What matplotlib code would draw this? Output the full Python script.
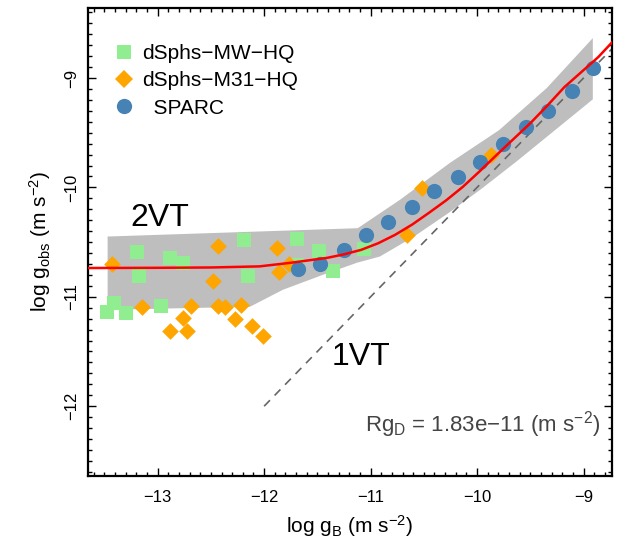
import matplotlib
matplotlib.use("Agg")
import matplotlib.pyplot as plt
from matplotlib.lines import Line2D

plt.rcParams['font.family'] = ['Liberation Sans', 'DejaVu Sans']
plt.rcParams['mathtext.fontset'] = 'custom'
plt.rcParams['mathtext.rm'] = 'Liberation Sans'
plt.rcParams['mathtext.it'] = 'Liberation Sans:italic'

# dSphs (Milky Way), high quality
mw_gb = [-13.197, -13.173, -12.885, -12.760, -12.187, -12.149, -11.695, -11.483,
         -11.351, -11.063, -13.410, -13.473, -13.300, -12.969, -11.692]
mw_gobs = [-10.586, -10.808, -10.647, -10.687, -10.479, -10.808, -10.473, -10.580,
           -10.760, -10.564, -11.058, -11.140, -11.149, -11.082, -10.708]

# dSphs (M31), high quality
m31_gb = [-13.426, -13.145, -12.765, -12.885, -12.728, -12.687, -12.437, -12.478,
          -12.437, -12.368, -12.221, -12.274, -12.112, -12.008, -11.883, -11.767,
          -11.858, -10.660, -10.516, -9.873]
m31_gobs = [-10.701, -11.089, -11.195, -11.317, -11.317, -11.082, -10.534, -10.854,
            -11.082, -11.089, -11.073, -11.201, -11.271, -11.356, -10.555, -10.699,
            -10.769, -10.434, -10.002, -9.703]

# SPARC binned points
sparc_gb = [-11.685, -11.478, -11.254, -11.041, -10.835, -10.612, -10.405, -10.182,
            -9.969, -9.752, -9.539, -9.332, -9.110, -8.913]
sparc_gobs = [-10.747, -10.701, -10.571, -10.434, -10.312, -10.175, -10.032, -9.907,
              -9.770, -9.605, -9.445, -9.299, -9.116, -8.911]

# fitted relation (red curve)
fit_gb = [-13.70, -13.00, -12.50, -12.044, -11.758, -11.408, -11.25, -11.089,
          -10.93, -10.771, -10.61, -10.453, -10.29, -10.134, -9.975, -9.816,
          -9.657, -9.498, -9.34, -9.179, -9.02, -8.861, -8.70]
fit_gobs = [-10.737, -10.735, -10.732, -10.722, -10.690, -10.644, -10.612, -10.571,
            -10.511, -10.434, -10.340, -10.233, -10.118, -9.995, -9.852, -9.703,
            -9.557, -9.411, -9.252, -9.082, -8.945, -8.808, -8.640]

# scatter band (gray)
band_up_gb = [-13.470, -11.121, -10.725, -10.255, -9.791, -9.345, -8.913]
band_up_gobs = [-10.449, -10.373, -10.114, -9.776, -9.475, -9.091, -8.635]
band_lo_gb = [-8.913, -9.343, -9.631, -9.951, -10.271, -10.592, -10.913, -11.129,
              -11.448, -11.824, -12.133, -13.470]
band_lo_gobs = [-9.195, -9.536, -9.764, -10.007, -10.236, -10.449, -10.632, -10.689,
                -10.799, -10.936, -11.091, -11.119]

# 1:1 line
onevt = [-12.0, -8.6]

fig = plt.figure(figsize=(6.25, 5.41), dpi=100)
ax = fig.add_axes([0.140, 0.120, 0.839, 0.866])

ax.fill(band_up_gb + band_lo_gb, band_up_gobs + band_lo_gobs,
        color='#bebebe', lw=0, zorder=1)
ax.plot(onevt, onevt, color='#666666', lw=1.2, ls=(0, (5, 4)), zorder=2)

ax.scatter(mw_gb, mw_gobs, marker='s', s=110, color='#90ee90', lw=0, zorder=3)
ax.scatter(m31_gb, m31_gobs, marker='D', s=72, color='#ffa500', lw=0, zorder=4)
ax.scatter(sparc_gb, sparc_gobs, marker='o', s=120, color='#4682b4', lw=0, zorder=5)
ax.plot(fit_gb, fit_gobs, color='red', lw=1.8, zorder=6)

ax.set_xlim(-13.659, -8.734)
ax.set_ylim(-12.639, -8.356)

ax.text(-12.978, -10.279, '2VT', fontsize=23, ha='center', va='center')
ax.text(-11.091, -11.548, '1VT', fontsize=23, ha='center', va='center')
ax.text(-8.846, -12.169, r'Rg$_\mathrm{D}$ = 1.83e−11 (m s$^{-2}$)', fontsize=16,
        color='#444444', ha='right', va='center')

handles = [
    Line2D([], [], marker='s', ls='none', ms=10.5, color='#90ee90', mew=0),
    Line2D([], [], marker='D', ls='none', ms=9, color='#ffa500', mew=0),
    Line2D([], [], marker='o', ls='none', ms=11, color='#4682b4', mew=0),
]
ax.legend(handles, ['dSphs−MW−HQ', 'dSphs−M31−HQ', '  SPARC'],
          loc='upper left', bbox_to_anchor=(0.05, 0.922), frameon=False,
          fontsize=15, handlelength=1.0, handletextpad=0.36,
          borderpad=0, borderaxespad=0, labelspacing=0.4)

ax.set_xticks([-13, -12, -11, -10, -9])
ax.set_yticks([-12, -11, -10, -9])
ax.set_xticks([v / 10 for v in range(-136, -87)], minor=True)
ax.set_yticks([v / 10 for v in range(-126, -83)], minor=True)
ax.tick_params(which='both', direction='in', top=True, right=True, width=1)
ax.tick_params(which='major', length=6, labelsize=12)
ax.tick_params(which='minor', length=3)
ax.tick_params(axis='x', pad=10)
ax.tick_params(axis='y', pad=6)
for lab in ax.get_yticklabels():
    lab.set_rotation(90)
    lab.set_va('center')
for sp in ax.spines.values():
    sp.set_linewidth(1.6)

ax.set_xlabel(r'log g$_\mathrm{B}$ (m s$^{-2}$)', fontsize=15, labelpad=6)
ax.set_ylabel(r'log g$_\mathrm{obs}$ (m s$^{-2}$)', fontsize=15, labelpad=8)

fig.savefig('out.png', dpi=100)
